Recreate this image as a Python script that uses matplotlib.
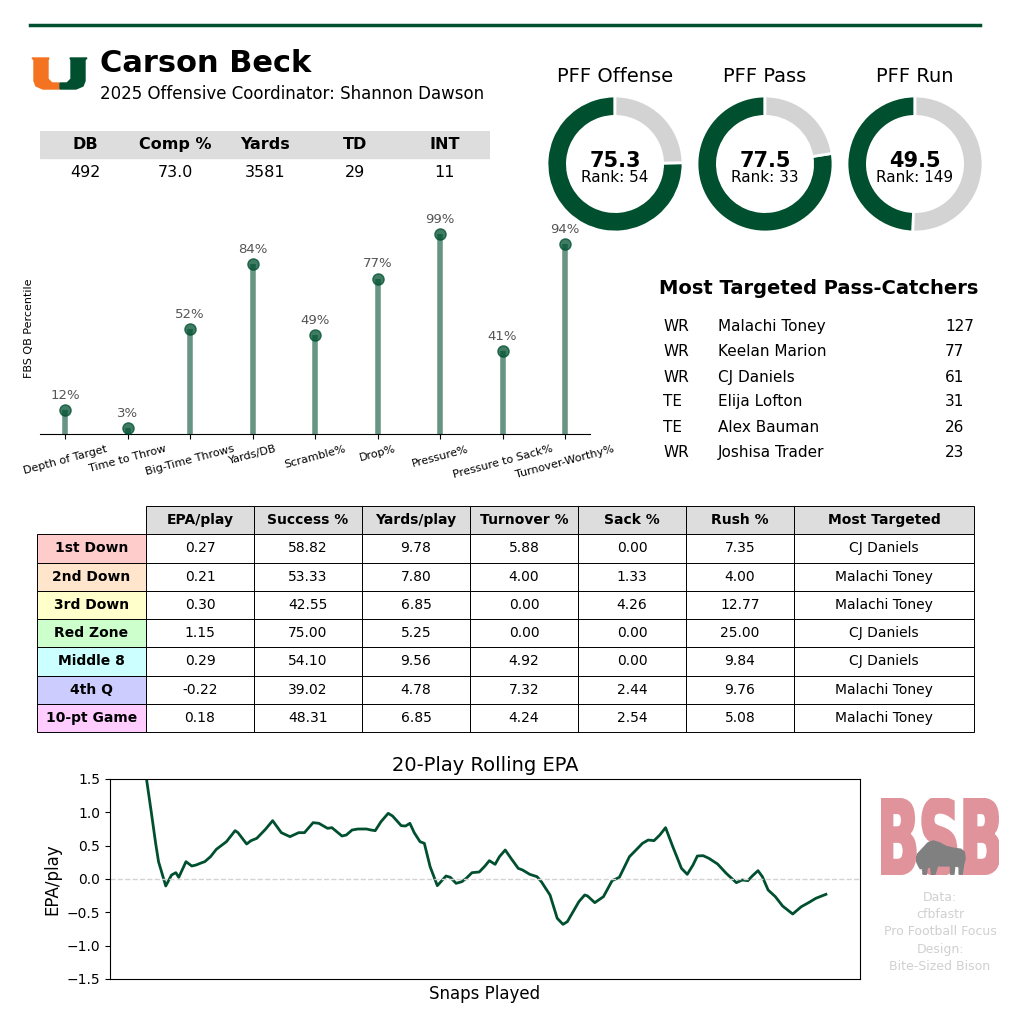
import numpy as np
import matplotlib.pyplot as plt
from matplotlib.lines import Line2D
from matplotlib.patches import Polygon, Rectangle, PathPatch
from matplotlib.textpath import TextPath
from matplotlib.font_manager import FontProperties

W, H = 1024, 1019
GREEN = '#005030'
ORANGE = '#f47321'

# header stats
stat_cols = ['DB', 'Comp %', 'Yards', 'TD', 'INT']
stat_vals = ['492', '73.0', '3581', '29', '11']

# PFF grades
pff_titles = ['PFF Offense', 'PFF Pass', 'PFF Run']
pff_grades = [75.3, 77.5, 49.5]
pff_ranks = [54, 33, 149]

# percentile lollipops
pct_labels = ['Depth of Target', 'Time to Throw', 'Big-Time Throws', 'Yards/DB', 'Scramble%',
              'Drop%', 'Pressure%', 'Pressure to Sack%', 'Turnover-Worthy%']
pct_vals = [12, 3, 52, 84, 49, 77, 99, 41, 94]

# targets
tgt_pos = ['WR', 'WR', 'WR', 'TE', 'TE', 'WR']
tgt_names = ['Malachi Toney', 'Keelan Marion', 'CJ Daniels', 'Elija Lofton', 'Alex Bauman', 'Joshisa Trader']
tgt_counts = [127, 77, 61, 31, 26, 23]

# situational table
sit_rows = ['1st Down', '2nd Down', '3rd Down', 'Red Zone', 'Middle 8', '4th Q', '10-pt Game']
sit_colors = ['#ffcccc', '#ffe5cc', '#ffffcc', '#ccffcc', '#ccffff', '#ccccff', '#ffccff']
sit_cols = ['EPA/play', 'Success %', 'Yards/play', 'Turnover %', 'Sack %', 'Rush %', 'Most Targeted']
epa = [0.27, 0.21, 0.30, 1.15, 0.29, -0.22, 0.18]
success = [58.82, 53.33, 42.55, 75.00, 54.10, 39.02, 48.31]
ypp = [9.78, 7.80, 6.85, 5.25, 9.56, 4.78, 6.85]
turnover = [5.88, 4.00, 0.00, 0.00, 4.92, 7.32, 4.24]
sack = [0.00, 1.33, 4.26, 0.00, 0.00, 2.44, 2.54]
rush = [7.35, 4.00, 12.77, 25.00, 9.84, 9.76, 5.08]
most_tgt = ['CJ Daniels', 'Malachi Toney', 'Malachi Toney', 'CJ Daniels', 'CJ Daniels',
            'Malachi Toney', 'Malachi Toney']

# rolling epa
snaps = [0, 5, 8, 10, 15, 19, 22, 24, 29, 33, 36, 40, 42, 46, 50, 57, 63, 65, 71, 74, 78, 84, 89,
         95, 101, 107, 111, 117, 121, 127, 130, 137, 140, 144, 148, 154, 157, 160, 164, 169, 172,
         178, 181, 184, 187, 191, 194, 198, 203, 209, 212, 216, 220, 223, 227, 232, 236, 239, 243,
         246, 250, 254, 259, 262, 267, 272, 275, 281, 286, 290, 293, 297, 301, 305, 307, 312, 318,
         324, 329, 336, 341, 345, 349, 353, 357, 361, 366, 372, 376, 380, 383, 387, 391, 397, 403,
         410, 414, 418, 421, 425, 428, 432, 437, 442, 449, 455, 460, 465, 472]
roll_epa = [1.75, 1.0, 0.535, 0.26, -0.105, 0.06, 0.095, 0.025, 0.26, 0.195, 0.21, 0.245, 0.26,
            0.335, 0.445, 0.56, 0.725, 0.695, 0.525, 0.575, 0.61, 0.745, 0.875, 0.695, 0.635,
            0.695, 0.695, 0.845, 0.835, 0.76, 0.77, 0.645, 0.66, 0.735, 0.75, 0.75, 0.735, 0.725,
            0.86, 0.985, 0.945, 0.80, 0.795, 0.835, 0.695, 0.56, 0.535, 0.185, -0.10, 0.045, 0.025,
            -0.065, -0.04, 0.01, 0.095, 0.105, 0.195, 0.275, 0.22, 0.335, 0.435, 0.31, 0.16, 0.135,
            0.07, 0.035, -0.04, -0.24, -0.59, -0.68, -0.64, -0.49, -0.34, -0.24, -0.255, -0.355,
            -0.265, -0.025, 0.025, 0.335, 0.445, 0.535, 0.585, 0.575, 0.66, 0.77, 0.485, 0.16, 0.07,
            0.21, 0.345, 0.35, 0.31, 0.225, 0.085, -0.055, -0.015, -0.025, 0.045, 0.125, 0.035,
            -0.165, -0.265, -0.405, -0.525, -0.415, -0.355, -0.29, -0.23]


def box(x0, y0, x1, y1):
    return [x0 / W, 1 - y1 / H, (x1 - x0) / W, (y1 - y0) / H]


def fx(x):
    return x / W


def fy(y):
    return 1 - y / H


fig = plt.figure(figsize=(W / 100, H / 100), dpi=100)

# top rule
fig.add_artist(Line2D([fx(30), fx(980)], [fy(25), fy(25)], color=GREEN, lw=2.5))

# U logo
ax_u = fig.add_axes(box(30, 55, 90, 92))
ax_u.set_xlim(0, 60)
ax_u.set_ylim(37, 0)
ax_u.axis('off')
left_u = [(2, 3), (19, 3), (18, 5), (18, 24), (22, 28), (29, 28), (29, 34), (13, 34), (6, 31),
          (4, 26), (4, 5)]
right_u = [(59 - x, y) for x, y in left_u]
ax_u.add_patch(Polygon(left_u, closed=True, color=ORANGE))
ax_u.add_patch(Polygon(right_u, closed=True, color=GREEN))

fig.text(fx(100), fy(63), 'Carson Beck', fontsize=22, fontweight='bold', va='center')
fig.text(fx(100), fy(94), '2025 Offensive Coordinator: Shannon Dawson', fontsize=12, va='center')

# stat strip
ax_s = fig.add_axes(box(40, 131, 490, 185))
ax_s.set_xlim(0, 5)
ax_s.set_ylim(2, 0)
ax_s.axis('off')
ax_s.add_patch(Rectangle((0, 0), 5, 1, color='#dddddd'))
for i, (c, v) in enumerate(zip(stat_cols, stat_vals)):
    ax_s.text(i + 0.5, 0.5, c, ha='center', va='center', fontsize=11.5, fontweight='bold')
    ax_s.text(i + 0.5, 1.55, v, ha='center', va='center', fontsize=11.5)

# lollipops (drawn first so the donuts sit on top)
ax_l = fig.add_axes(box(40, 222, 590, 434))
ax_l.patch.set_visible(False)
xs = np.arange(len(pct_vals))
ax_l.vlines(xs, 0, pct_vals, color=GREEN, alpha=0.6, lw=4)
ax_l.scatter(xs, pct_vals, s=65, color=GREEN, alpha=0.75, zorder=3)
for x, v in zip(xs, pct_vals):
    ax_l.text(x, v + 4, f'{v}%', ha='center', va='bottom', fontsize=9.5, color='#555555')
ax_l.set_xlim(-0.4, 8.4)
ax_l.set_ylim(0, 105)
ax_l.set_xticks(xs)
ax_l.set_xticklabels(pct_labels, rotation=15, ha='center', fontsize=8)
ax_l.set_yticks([])
ax_l.set_ylabel('FBS QB Percentile', fontsize=8)
for s in ['top', 'right', 'left']:
    ax_l.spines[s].set_visible(False)

# donuts
for i, (t, g, r) in enumerate(zip(pff_titles, pff_grades, pff_ranks)):
    cx = 615 + 150 * i
    ax_d = fig.add_axes(box(cx - 68, 96, cx + 68, 232))
    ax_d.patch.set_visible(False)
    ax_d.pie([g, 100 - g], colors=[GREEN, '#d3d3d3'], startangle=90, counterclock=True,
             wedgeprops=dict(width=0.3, edgecolor='white', linewidth=2))
    ax_d.set_xlim(-1, 1)
    ax_d.set_ylim(-1, 1)
    ax_d.set_aspect('equal')
    ax_d.text(0, 0.05, f'{g:.1f}', ha='center', va='center', fontsize=15, fontweight='bold')
    ax_d.text(0, -0.2, f'Rank: {r}', ha='center', va='center', fontsize=11)
    fig.text(fx(cx), fy(76), t, ha='center', va='center', fontsize=14)

# most targeted
fig.text(fx(819), fy(289), 'Most Targeted Pass-Catchers', ha='center', va='center',
         fontsize=14, fontweight='bold')
for i, (p, n, c) in enumerate(zip(tgt_pos, tgt_names, tgt_counts)):
    y = fy(327 + 25 * i)
    fig.text(fx(663), y, p, va='center', fontsize=11)
    fig.text(fx(718), y, n, va='center', fontsize=11)
    fig.text(fx(945), y, str(c), va='center', fontsize=11)

# situational table
ax_t = fig.add_axes(box(37, 506, 974, 732))
ax_t.axis('off')
cells = []
for i in range(len(sit_rows)):
    cells.append([sit_rows[i], f'{epa[i]:.2f}', f'{success[i]:.2f}', f'{ypp[i]:.2f}',
                  f'{turnover[i]:.2f}', f'{sack[i]:.2f}', f'{rush[i]:.2f}', most_tgt[i]])
widths = np.array([109, 108, 108, 108, 108, 108, 108, 180], dtype=float)
tbl = ax_t.table(cellText=cells, colLabels=[''] + sit_cols, colWidths=list(widths / widths.sum()),
                 cellLoc='center', bbox=[0, 0, 1, 1])
tbl.auto_set_font_size(False)
tbl.set_fontsize(10)
for (r, c), cell in tbl.get_celld().items():
    cell.set_linewidth(0.7)
    if r == 0:
        if c == 0:
            cell.set_visible(False)
        else:
            cell.set_facecolor('#dddddd')
            cell.get_text().set_fontweight('bold')
    elif c == 0:
        cell.set_facecolor(sit_colors[r - 1])
        cell.get_text().set_fontweight('bold')

# rolling epa
ax_e = fig.add_axes(box(110, 779, 860, 979))
ax_e.plot(snaps, roll_epa, color=GREEN, lw=2)
ax_e.axhline(0, color='lightgray', ls='--', lw=1)
ax_e.set_ylim(-1.5, 1.5)
ax_e.set_yticks([-1.5, -1.0, -0.5, 0.0, 0.5, 1.0, 1.5])
ax_e.tick_params(axis='y', labelsize=10)
ax_e.set_xticks([])
ax_e.set_title('20-Play Rolling EPA', fontsize=14)
ax_e.set_xlabel('Snaps Played', fontsize=12)
ax_e.set_ylabel('EPA/play', fontsize=12)

# BSB mark
tp = TextPath((0, 0), 'BSB', size=100, prop=FontProperties(family='DejaVu Sans', weight='bold'))
ax_b = fig.add_axes(box(881, 798, 999, 875))
ax_b.add_patch(PathPatch(tp, facecolor='#e0939a', edgecolor='#e0939a', lw=2.5))
ext = tp.get_extents()
ax_b.set_xlim(ext.x0, ext.x1)
ax_b.set_ylim(ext.y0, ext.y1)
ax_b.axis('off')

ax_bi = fig.add_axes(box(916, 840, 966, 877))
ax_bi.set_xlim(0, 58)
ax_bi.set_ylim(40, 0)
ax_bi.axis('off')
bison = [(1, 24), (0, 20), (2, 15), (5, 12), (9, 8), (14, 3), (20, 1), (27, 3), (35, 7),
         (44, 9), (52, 10), (56, 13), (57, 20), (55, 27), (54, 37), (50, 37), (50, 29), (45, 28),
         (44, 37), (40, 37), (40, 28), (25, 28), (22, 37), (18, 37), (17, 29), (13, 30), (12, 37),
         (8, 37), (8, 30), (5, 31), (3, 28)]
ax_bi.add_patch(Polygon(bison, closed=True, color='#808080'))

fig.text(fx(940), fy(891), 'Data:\ncfbfastr\nPro Football Focus\nDesign:\nBite-Sized Bison',
         ha='center', va='top', fontsize=9, color='#d0d0d0', linespacing=1.42)

fig.savefig('out.png', dpi=100)
